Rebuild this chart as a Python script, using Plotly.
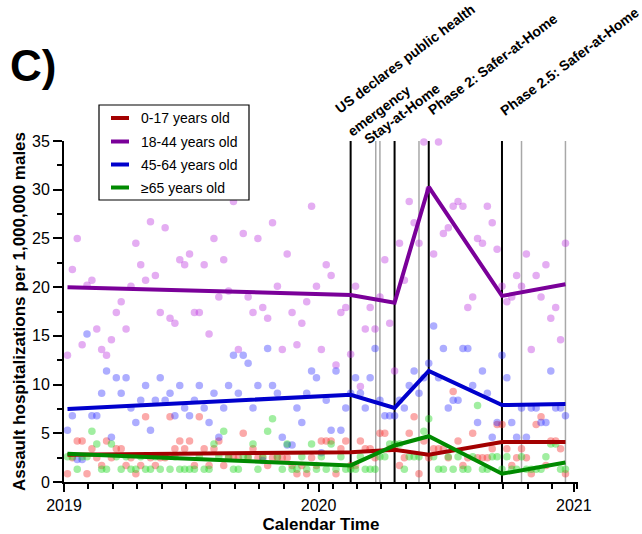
import pandas as pd
import plotly.graph_objects as go

# ---------------- data ----------------
first_week = "2019-01-06"
n_weeks = 103
week_dates = pd.date_range(first_week, periods=n_weeks, freq="7D")

age_0_17 = [0.84, 2.5, 4.2, 4.2, 0.84, 3.4, 2.5, 1.7, 4.2, 2.5,
            3.4, 3.4, 1.7, 2.5, 0.84, 1.7, 6.7, 2.5, 1.7, 2.5,
            2.5, 6.7, 3.4, 4.2, 3.4, 4.2, 1.7, 6.7, 3.4, 1.7,
            3.4, 4.2, 1.7, 2.5, 2.5, 2.5, 5.0, 2.5, 3.4, 2.5,
            2.5, 1.7, 2.5, 2.5, 2.5, 2.5, 1.7, 0.84, 1.7, 0.84,
            2.5, 1.7, 4.2, 4.2, 4.2, 0.84, 3.4, 4.2, 1.7, 1.7,
            4.2, 3.4, 3.4, 2.5, 5.0, 5.0, 3.4, 3.4, 1.7, 2.5,
            5.0, 6.7, 0.84, 4.2, 2.5, 3.4, 3.4, 3.4, 2.5, 9.3,
            4.2, 1.7, 2.5, 5.0, 2.5, 2.5, 2.5, 3.4, 5.9, 5.9,
            3.4, 1.7, 2.5, 3.4, 2.5, 0.84, 5.9, 6.7, 1.7, 4.2,
            4.2, 3.4, 0.84]

age_18_44 = [13.0, 21.8, 25.0, 14.1, 20.2, 20.7, 15.7, 13.6, 13.0, 14.6,
             17.4, 18.5, 15.7, 20.1, 24.5, 22.3, 20.7, 26.7, 21.2, 17.4,
             26.1, 16.8, 16.3, 22.8, 22.3, 23.4, 17.4, 17.4, 22.3, 15.2,
             25.0, 19.0, 22.8, 19.6, 28.8, 13.6, 25.5, 19.0, 17.4, 25.0,
             17.9, 16.8, 26.6, 20.1, 13.6, 23.4, 17.4, 14.1, 16.3, 18.5,
             28.3, 20.1, 13.6, 22.3, 21.2, 12.0, 17.4, 17.9, 13.1, 20.1,
             9.8, 15.7, 17.9, 15.7, 19.0, 22.8, 16.3, 11.4, 24.5, 20.7,
             28.8, 26.6, 24.5, 34.9, 30.0, 23.4, 34.9, 25.5, 26.1, 28.3,
             28.8, 28.3, 17.9, 19.0, 25.0, 24.5, 28.3, 26.6, 23.9, 20.1,
             18.5, 19.0, 21.2, 20.1, 23.4, 13.6, 21.2, 19.0, 22.3, 16.8,
             17.9, 14.6, 24.5]

age_45_64 = [5.3, 6.8, 2.3, 2.3, 15.2, 6.8, 6.8, 9.1, 11.4, 4.6,
             10.7, 9.1, 10.7, 7.6, 6.1, 8.4, 9.9, 5.3, 8.4, 10.7,
             8.4, 9.1, 6.8, 9.9, 7.6, 6.8, 8.4, 9.9, 7.6, 6.1,
             9.1, 4.6, 7.6, 9.9, 13.0, 9.1, 13.0, 12.2, 7.6, 9.9,
             2.2, 13.7, 9.9, 9.1, 4.6, 3.8, 3.8, 7.6, 6.1, 9.1,
             11.4, 10.7, 3.0, 8.4, 5.3, 11.4, 5.3, 7.6, 9.1, 10.7,
             9.1, 7.6, 10.7, 13.7, 8.4, 6.8, 6.8, 6.8, 8.4, 7.6,
             9.9, 11.4, 9.1, 10.7, 12.2, 16.0, 10.7, 13.7, 7.6, 8.4,
             8.4, 13.7, 13.7, 9.9, 6.1, 11.4, 9.1, 4.6, 6.1, 13.0,
             10.7, 6.1, 4.6, 7.6, 4.6, 7.6, 7.6, 6.1, 6.1, 11.4,
             7.6, 7.6, 6.8]

age_65_plus = [2.6, 2.6, 1.3, 2.6, 2.6, 5.2, 3.9, 1.3, 1.3, 3.9,
               2.6, 1.3, 2.6, 1.3, 1.3, 2.6, 1.3, 1.3, 2.6, 1.3,
               2.6, 1.3, 2.6, 1.3, 1.3, 1.3, 1.3, 2.6, 1.3, 1.3,
               3.9, 2.6, 5.2, 2.6, 1.3, 1.3, 2.6, 2.6, 3.9, 1.3,
               2.6, 5.2, 6.5, 2.6, 1.3, 3.9, 1.3, 1.3, 2.6, 1.3,
               3.9, 1.3, 2.6, 1.3, 3.9, 1.3, 2.6, 1.3, 1.3, 1.3,
               2.6, 1.3, 1.3, 1.3, 2.6, 2.6, 3.9, 3.9, 3.9, 1.3,
               2.6, 2.6, 2.6, 5.2, 6.5, 2.6, 1.3, 1.3, 2.6, 1.3,
               2.6, 1.3, 1.3, 2.6, 7.85, 1.3, 1.3, 2.6, 2.6, 1.3,
               2.6, 1.3, 1.3, 2.6, 1.3, 1.3, 1.3, 1.3, 2.6, 3.9,
               3.9, 1.3, 1.3]

trend_dates = ["2019-01-06", "2020-02-16", "2020-04-19", "2020-06-07",
               "2020-09-20", "2020-12-20"]
trend_0_17 = [2.8, 3.05, 3.3, 2.8, 4.1, 4.1]
trend_18_44 = [20.0, 19.2, 18.4, 30.3, 19.1, 20.3]
trend_45_64 = [7.5, 8.95, 7.6, 11.4, 7.9, 8.0]
trend_65_plus = [2.9, 1.7, 3.75, 4.7, 0.85, 2.0]

series_names = ["0-17 years old", "18-44 years old", "45-64 years old", "≥65 years old"]
line_colors = ["#A30000", "#7A0099", "#0000CC", "#008A00"]
dot_colors = ["rgba(245,50,50,0.42)", "rgba(185,40,220,0.38)",
              "rgba(40,40,255,0.38)", "rgba(30,215,30,0.42)"]

event_dates = ["2020-02-16", "2020-04-19", "2020-06-07", "2020-09-20"]
minor_event_dates = ["2020-03-23", "2020-03-29", "2020-05-24", "2020-10-18", "2020-12-20"]

# label text, anchor date, x shift, y shift of the label centre (px)
event_labels = [
    ("US declares public health", "2020-02-16", 54, 82),
    ("emergency", "2020-02-16", 28, 30),
    ("Stay-at-Home", "2020-04-19", 7, 27),
    ("Phase 2: Safer-at-Home", "2020-06-07", 64, 77),
    ("Phase 2.5: Safer-at-Home", "2020-09-20", 68, 80),
]

y_title = "Assault hospitalizations per 1,000,000 males"
x_title = "Calendar Time"
panel_label = "C)"

# ---------------- figure ----------------
W, H = 642, 534
ML, MR, MT, MB = 64, 64, 141, 52
FONT = "Liberation Sans, Arial, sans-serif"

def px_x(px):
    return (px - ML) / (W - ML - MR)

def px_y(py):
    return (H - MB - py) / (H - MT - MB)

fig = go.Figure()

values = [age_0_17, age_18_44, age_45_64, age_65_plus]
trends = [trend_0_17, trend_18_44, trend_45_64, trend_65_plus]

for vals, col in zip(values, dot_colors):
    fig.add_trace(go.Scatter(x=week_dates, y=vals, mode="markers",
                             marker=dict(size=7.5, color=col, line=dict(width=0)),
                             showlegend=False, cliponaxis=False, hoverinfo="skip"))

for name, tr, col in zip(series_names, trends, line_colors):
    fig.add_trace(go.Scatter(x=trend_dates, y=tr, mode="lines", name=name,
                             line=dict(color=col, width=4), showlegend=False))

for d in event_dates:
    fig.add_shape(type="line", xref="x", yref="y", x0=d, x1=d, y0=0, y1=35,
                  line=dict(color="black", width=2), layer="below")
for d in minor_event_dates:
    fig.add_shape(type="line", xref="x", yref="y", x0=d, x1=d, y0=0, y1=35,
                  line=dict(color="#A8A8A8", width=1.5), layer="below")

for text, d, xs, ys in event_labels:
    fig.add_annotation(text="<b>%s</b>" % text, x=d, y=35, xref="x", yref="y",
                       xanchor="center", yanchor="middle", xshift=xs, yshift=ys,
                       textangle=-37, showarrow=False,
                       font=dict(family=FONT, size=14, color="black"))

# legend (manual, boxed)
fig.add_shape(type="rect", xref="paper", yref="paper",
              x0=px_x(99), x1=px_x(249), y0=px_y(200), y1=px_y(105),
              line=dict(color="black", width=1.2), fillcolor="white", layer="above")
leg_y = [118, 141.5, 164.5, 187.5]
for name, col, ly in zip(series_names, line_colors, leg_y):
    fig.add_shape(type="line", xref="paper", yref="paper",
                  x0=px_x(111), x1=px_x(129), y0=px_y(ly), y1=px_y(ly),
                  line=dict(color=col, width=4), layer="above")
    fig.add_annotation(text=name, xref="paper", yref="paper", x=px_x(139), y=px_y(ly),
                       xanchor="left", yanchor="middle", showarrow=False,
                       font=dict(family=FONT, size=14, color="black"))

fig.add_annotation(text="<b>%s</b>" % panel_label, xref="paper", yref="paper",
                   x=px_x(8), y=px_y(66), xanchor="left", yanchor="middle",
                   showarrow=False, font=dict(family=FONT, size=44, color="black"))

fig.update_layout(
    width=W, height=H, margin=dict(l=ML, r=MR, t=MT, b=MB, autoexpand=False),
    paper_bgcolor="white", plot_bgcolor="white",
    font=dict(family=FONT, size=16, color="black"),
    showlegend=False,
)
fig.update_xaxes(
    type="date", range=["2019-01-01", "2021-01-07"], automargin=False,
    tick0="2019-01-01", dtick="M12", tickformat="%Y",
    ticks="outside", ticklen=8, tickwidth=2, tickcolor="black",
    minor=dict(tick0="2019-01-01", dtick=35 * 86400000, ticks="outside",
               ticklen=5, tickwidth=2, tickcolor="black", showgrid=False),
    showline=True, linewidth=2, linecolor="black", showgrid=False, zeroline=False,
    tickfont=dict(size=16),
    title=dict(text="<b>%s</b>" % x_title, font=dict(size=17), standoff=14),
)
fig.update_yaxes(
    range=[0, 35], tick0=0, dtick=5, automargin=False,
    ticks="outside", ticklen=9, tickwidth=2, tickcolor="black",
    minor=dict(dtick=2.5, ticks="outside", ticklen=5, tickwidth=2,
               tickcolor="black", showgrid=False),
    showline=True, linewidth=2, linecolor="black", showgrid=False, zeroline=False,
    tickfont=dict(size=16),
    title=dict(text="<b>%s</b>" % y_title, font=dict(size=17), standoff=2),
)

fig.write_html("out.html", config={"displayModeBar": False},
               post_script="document.body.style.margin='0px';")
